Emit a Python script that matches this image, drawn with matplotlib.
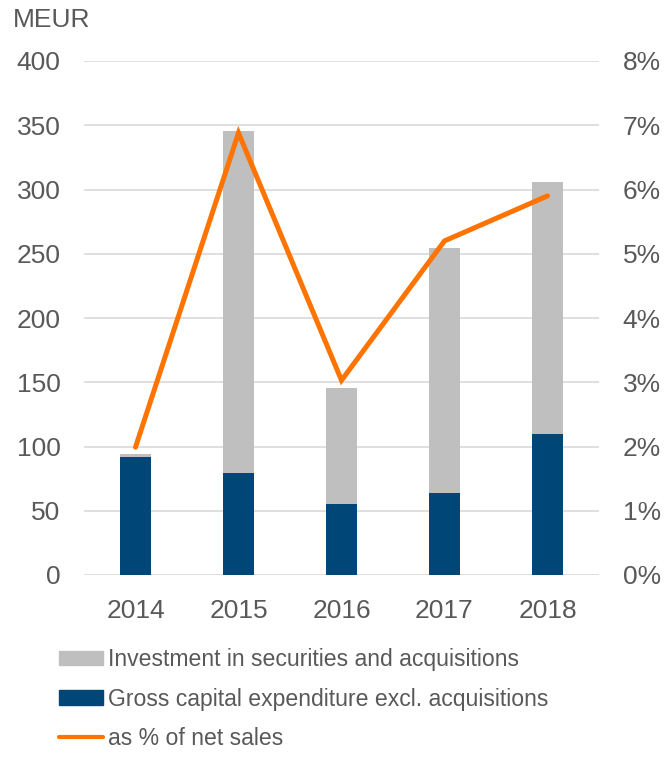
import matplotlib
matplotlib.use("Agg")
import matplotlib.pyplot as plt
from matplotlib.ticker import FuncFormatter
from matplotlib.lines import Line2D
from matplotlib.patches import Patch

years = ["2014", "2015", "2016", "2017", "2018"]
gross_capex = [92, 79, 55, 64, 110]
total_invest = [94.5, 345.5, 145.5, 254.5, 305.5]
securities = [t - g for t, g in zip(total_invest, gross_capex)]
pct_net_sales = [1.99, 6.88, 3.03, 5.2, 5.9]

GREY = "#BFBFBF"
BLUE = "#004677"
ORANGE = "#FF7300"
TXT = "#595959"
GRID = "#D9D9D9"

plt.rcParams['font.family'] = ['Liberation Sans', 'DejaVu Sans']

fig = plt.figure(figsize=(6.67, 7.62), dpi=100)
ax = fig.add_axes([84/667, 1-575/762, 515/667, (575-61)/762])
x = range(len(years))
ax.bar(x, gross_capex, width=0.31, color=BLUE, zorder=2)
ax.bar(x, securities, bottom=gross_capex, width=0.31, color=GREY, zorder=2)
ax.set_ylim(0, 400)
ax.set_yticks(range(0, 401, 50))
ax.set_xlim(-0.5, 4.5)
ax.set_xticks(list(x))
ax.set_xticklabels(years)
ax.yaxis.grid(True, color=GRID, linewidth=1.2, zorder=0)
ax.set_axisbelow(True)
for s in ax.spines.values():
    s.set_visible(False)
ax.tick_params(axis='both', length=0, labelsize=19, colors=TXT)
ax.tick_params(axis='y', pad=17)
ax.tick_params(axis='x', pad=17)

ax2 = ax.twinx()
ax2.plot(x, pct_net_sales, color=ORANGE, linewidth=3.6, solid_capstyle='round',
         solid_joinstyle='miter', zorder=3)
ax2.set_ylim(0, 8)
ax2.set_yticks(range(0, 9))
ax2.yaxis.set_major_formatter(FuncFormatter(lambda v, p: f"{int(v)}%"))
for s in ax2.spines.values():
    s.set_visible(False)
ax2.tick_params(axis='y', length=0, labelsize=19, colors=TXT, pad=17)

fig.text(13/667, 1-20/762, "MEUR", fontsize=19, color=TXT, ha='left', va='center')

handles = [Patch(color=GREY), Patch(color=BLUE),
           Line2D([0], [0], color=ORANGE, linewidth=3, solid_capstyle='round')]
labels = ["Investment in securities and acquisitions",
          "Gross capital expenditure excl. acquisitions",
          "as % of net sales"]
leg = fig.legend(handles, labels, loc='upper left', bbox_to_anchor=(59/667, 1-648/762),
                 frameon=False, fontsize=16.6, handlelength=1.9, handletextpad=0.21,
                 handleheight=0.6, labelspacing=0.72, borderaxespad=0, borderpad=0)
for t in leg.get_texts():
    t.set_color(TXT)

fig.savefig("out.png", dpi=100)
